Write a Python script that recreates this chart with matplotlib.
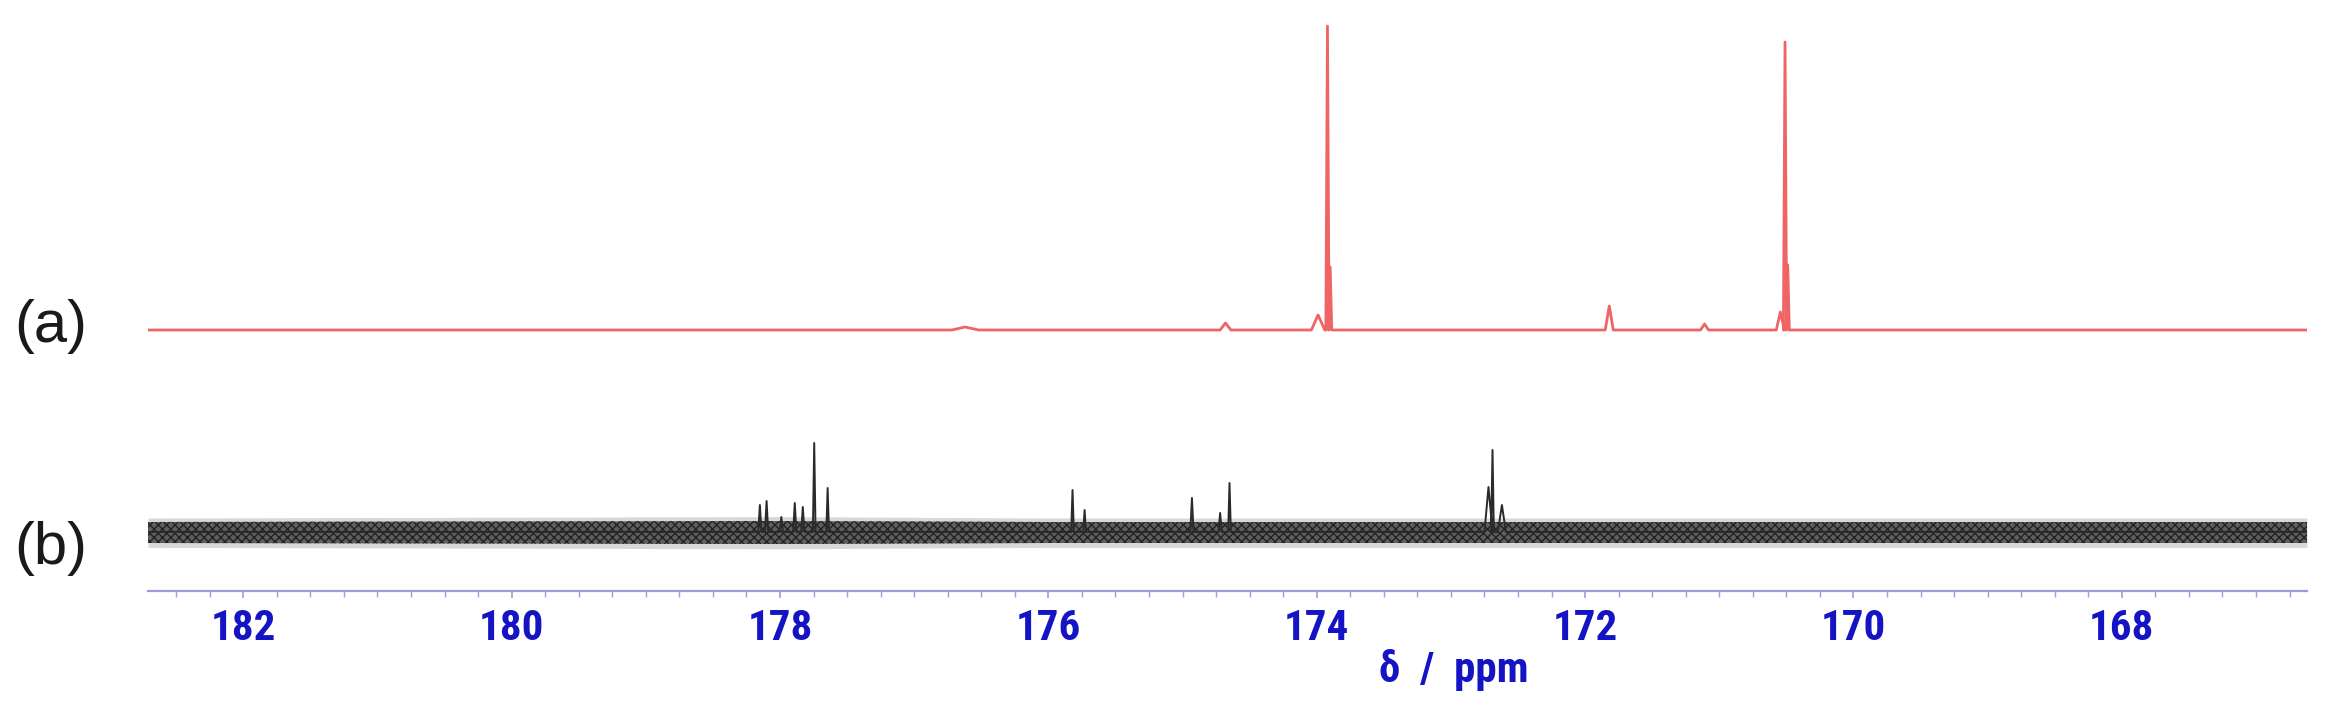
import numpy as np
import matplotlib
matplotlib.use("Agg")
import matplotlib.pyplot as plt
import matplotlib.font_manager as fm
from matplotlib.ticker import MultipleLocator, FixedLocator

# ---------------- data ----------------
ppm_left, ppm_right = 182.71, 166.62
major_ticks = [182, 180, 178, 176, 174, 172, 170, 168]
tick_labels = ["182", "180", "178", "176", "174", "172", "170", "168"]

# spectrum (a): peak positions (ppm), heights (a.u.), half widths (ppm)
a_ppm    = [176.62, 174.68, 173.99, 173.92, 173.90, 171.82, 171.11, 170.545, 170.51, 170.49]
a_height = [3,      7,      15,     304,    63,     24,     6,      18,      288,    65]
a_width  = [0.10,   0.04,   0.05,   0.012,  0.012,  0.03,   0.03,   0.03,    0.012,  0.012]

# spectrum (b): peak positions (ppm), heights (a.u.), half widths (ppm)
b_ppm    = [178.15, 178.10, 177.99, 177.89, 177.83, 177.745, 177.645, 175.82, 175.73,
            174.93, 174.72, 174.65, 172.72, 172.69, 172.62]
b_height = [27, 31, 15, 29, 25, 89, 44, 42, 22, 34, 19, 49, 45, 82, 27]
b_width  = [0.012, 0.012, 0.012, 0.012, 0.012, 0.010, 0.010, 0.010, 0.010,
            0.012, 0.012, 0.010, 0.03, 0.010, 0.03]

# noise envelope of spectrum (b) (a.u. around its baseline)
b_noise_ppm = [182.71, 178.0, 176.0, 174.0, 172.0, 170.0, 168.0, 166.62]
b_noise_hi  = [10, 11, 10, 10, 10, 10, 10, 10]
b_noise_lo  = [-11, -12, -11, -11, -11, -11, -11, -11]

offset_a = 261
offset_b = 59

series_labels = ["(a)", "(b)"]
xlabel_text = "δ  /  ppm"

# ---------------- styles ----------------
red = "#ef6464"
dark = "#2a2a2a"
axis_col = "#9c9cdc"
tick_col = "#1414c4"


def weight_of(f):
    try:
        return int(f.weight)
    except (TypeError, ValueError):
        return 700 if "bold" in str(f.weight).lower() else 400


def pick_narrow_bold():
    prefs = ["Liberation Sans Narrow", "Arial Narrow", "Roboto Condensed",
             "Open Sans Condensed", "Noto Sans Condensed", "DejaVu Sans"]
    best = None
    for f in fm.fontManager.ttflist:
        st = str(f.stretch)
        narrow = ("Narrow" in f.name or "Condensed" in f.name
                  or st in ("condensed", "semi-condensed", "extra-condensed"))
        if not narrow or weight_of(f) < 600 or "italic" in str(f.style).lower():
            continue
        rank = len(prefs)
        for i, p in enumerate(prefs):
            if f.name.startswith(p):
                rank = i
                break
        if best is None or rank < best[0]:
            best = (rank, f.fname, f.name)
    return best


cand = pick_narrow_bold()
if cand is not None:
    size = 31 if ("Narrow" in cand[2] or "Roboto" in cand[2]) else 28
    tick_fp = fm.FontProperties(fname=cand[1], size=size)
else:
    tick_fp = fm.FontProperties(family="DejaVu Sans", weight="bold", size=26)


def trace(pos, hgt, wid):
    xs, ys = [ppm_left], [0.0]
    for p, h, w in sorted(zip(pos, hgt, wid), reverse=True):
        xs += [p + w, p, p - w]
        ys += [0.0, h, 0.0]
    xs.append(ppm_right)
    ys.append(0.0)
    return np.array(xs), np.array(ys)


W, H = 2332, 712
fig = plt.figure(figsize=(W / 100, H / 100), dpi=100)
ax = fig.add_axes([148 / W, 121 / H, (2307 - 148) / W, 591 / H])
ax.set_xlim(ppm_left, ppm_right)
ax.set_ylim(0, 591)

nx = np.array(b_noise_ppm)
ax.fill_between(nx, offset_b + np.array(b_noise_lo) * 1.4, offset_b + np.array(b_noise_hi) * 1.4,
                color="#666666", alpha=0.25, lw=0)
ax.fill_between(nx, offset_b + np.array(b_noise_lo), offset_b + np.array(b_noise_hi),
                facecolor="#5e5e5e", edgecolor="#222222", hatch="xxxx", lw=0)

xa, ya = trace(a_ppm, a_height, a_width)
ax.plot(xa, ya + offset_a, color=red, lw=2.0)
xb, yb = trace(b_ppm, b_height, b_width)
ax.plot(xb, yb + offset_b, color=dark, lw=1.4)

for s in ["top", "left", "right"]:
    ax.spines[s].set_visible(False)
ax.spines["bottom"].set_color(axis_col)
ax.spines["bottom"].set_linewidth(1.6)
ax.set_yticks([])
ax.xaxis.set_major_locator(FixedLocator(major_ticks))
ax.set_xticklabels(tick_labels)
ax.xaxis.set_minor_locator(MultipleLocator(0.25))
ax.tick_params(axis="x", which="major", length=5, width=1.2, color=axis_col,
               pad=7, labelcolor=tick_col)
ax.tick_params(axis="x", which="minor", length=4, width=1.0, color=axis_col)
for lbl in ax.get_xticklabels():
    lbl.set_fontproperties(tick_fp)

fig.text(1454 / W, 1 - 670 / H, xlabel_text, ha="center", va="center",
         color=tick_col, fontproperties=tick_fp)

for lab, yc in zip(series_labels, [327, 549]):
    fig.text(51 / W, 1 - yc / H, lab, ha="center", va="center",
             fontsize=43, color="#1a1a1a", family=["Liberation Sans", "DejaVu Sans"])

fig.savefig("out.png", dpi=100, facecolor="white")
